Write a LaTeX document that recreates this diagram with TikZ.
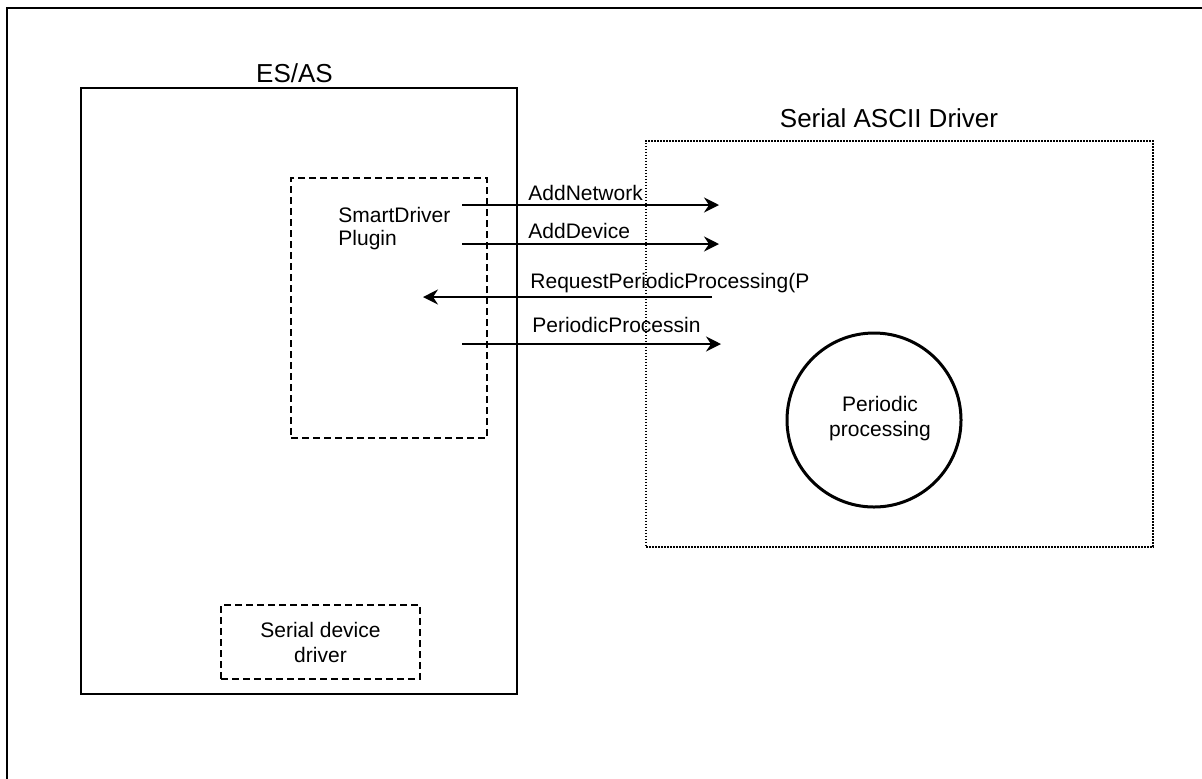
\documentclass[tikz,border=0pt]{standalone}
\usepackage{fontspec}
\setmainfont{Liberation Sans}
\usetikzlibrary{arrows.meta}
\begin{document}
\begin{tikzpicture}[x=0.5pt,y=-0.5pt,
  small/.style={font=\fontsize{10.5}{12.5}\selectfont, inner sep=0pt},
  big/.style={font=\fontsize{13}{15}\selectfont, inner sep=0pt},
  solidbox/.style={draw, line width=0.9pt, inner sep=0pt, anchor=north west},
  dashbox/.style={draw, line width=1pt, dash pattern=on 3.5pt off 2pt, inner sep=0pt, anchor=north west},
  dotbox/.style={draw, line width=0.9pt, dash pattern=on 0.8pt off 0.7pt, inner sep=0pt, anchor=north west},
  msg/.style={line width=0.95pt, -{Stealth[length=7.5pt,width=7.5pt,inset=2.5pt]}},
]
\useasboundingbox (0,0) rectangle (1202,778);
% outer frame (extends beyond the page on right and bottom)
\coordinate (fbl) at (7,790);
\coordinate (ftl) at (7,8);
\coordinate (ftr) at (1215,8);
\draw[line width=1.2pt] (fbl) -- (ftl) -- (ftr);

% ES/AS
\node[solidbox, minimum width=218pt, minimum height=303pt] (esas) at (80,87) {};
\node[big, anchor=base] (esaslbl) at (294.5,82) {ES/AS};
\node[dashbox, minimum width=98pt, minimum height=130pt] (plugin) at (290,177) {};
\node[small, anchor=base west, align=left] (pluginlbl) at (338,245) {SmartDriver\\[-1pt]Plugin};
\node[dashbox, minimum width=99.5pt, minimum height=37pt, small, align=center] (sdd) at (220,604) {Serial device\\driver};

% Serial ASCII Driver
\node[dotbox, minimum width=253.5pt, minimum height=203pt] (sad) at (645,140) {};
\node[big, anchor=base] (sadlbl) at (889,127) {Serial ASCII Driver};
\node[draw, circle, line width=1.5pt, minimum size=87pt, inner sep=0pt] (pp) at (874,420) {};
\node[small, align=center] (pplbl) at (880,419) {Periodic\\processing};

% messages
\coordinate (m1a) at (462,205); \coordinate (m1b) at (719,205);
\coordinate (m2a) at (462,244); \coordinate (m2b) at (719,244);
\coordinate (m3a) at (712,297); \coordinate (m3b) at (423,297);
\coordinate (m4a) at (462,344); \coordinate (m4b) at (721,344);
\draw[msg] (m1a) -- (m1b);
\draw[msg] (m2a) -- (m2b);
\draw[msg] (m3a) -- (m3b);
\draw[msg] (m4a) -- (m4b);
\node[small, anchor=base west] (l1) at (528,200) {AddNetwork};
\node[small, anchor=base west] (l2) at (528,238) {AddDevice};
\node[small, anchor=base west] (l3) at (530,288) {RequestPeriodicProcessing(P};
\node[small, anchor=base west] (l4) at (532,332) {PeriodicProcessin};
\end{tikzpicture}
\end{document}
